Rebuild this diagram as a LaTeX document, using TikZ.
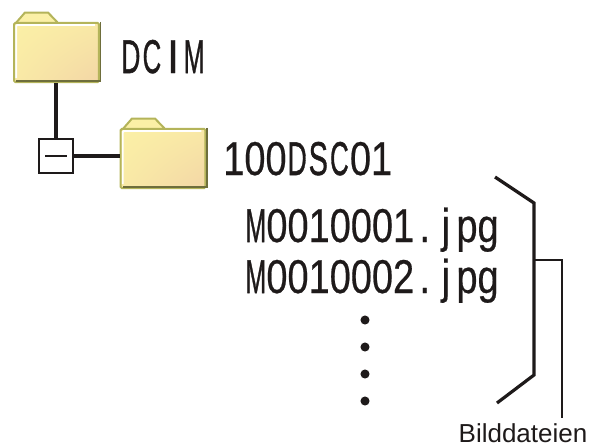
\documentclass[tikz,border=0pt]{standalone}
\usepackage{fontspec}
\usetikzlibrary{shadings}
\setmainfont{Liberation Sans}
\newfontfamily\gothicf[FakeBold=0.5]{Liberation Sans}
\newfontfamily\gothicg[FakeBold=1.1]{Liberation Sans}
\definecolor{folderedge}{HTML}{B4B45A}
\definecolor{foldershade}{HTML}{6E6E3C}
\definecolor{folderlight}{HTML}{FBF0A6}
\definecolor{folderpeach}{HTML}{F3D6A6}
\definecolor{linedark}{HTML}{1E1A1A}
\newcommand{\gothic}[1]{\scalebox{0.8}[1]{\fontsize{35.6pt}{36pt}\gothicf #1}}
\newcommand{\cel}[2]{\makebox[0.556em]{\scalebox{#1}[1]{#2}}}
\newcommand{\celb}[2]{\makebox[0.556em]{\scalebox{#1}[1]{\gothicg #2}}}
\tikzset{
  x=0.75pt,y=-0.75pt,
  folderbody/.style={rectangle,inner sep=0pt,minimum width=63.5pt,minimum height=44.5pt,
    draw=folderedge,line width=1.5pt,rounded corners=1pt,fill=folderlight,
    path picture={\shade[upper left=folderlight,upper right=folderlight!70!folderpeach,lower left=folderlight!75!folderpeach,lower right=folderpeach]
      (path picture bounding box.south west) rectangle (path picture bounding box.north east);
      \draw[white,line width=1.5pt] (path picture bounding box.south west)++(1.5pt,3pt) |- ([xshift=-3pt,yshift=-1.5pt]path picture bounding box.north east);}},
  foldertab/.style={draw=folderedge,line width=1.5pt,fill=folderlight,line join=round},
  tree/.style={draw=linedark,line width=3.7pt},
  expander/.style={rectangle,draw=linedark,line width=1.4pt,fill=white,minimum width=26pt,minimum height=26pt,inner sep=0pt},
  gothiclabel/.style={anchor=base west,inner sep=0pt,text=linedark},
  brace/.style={draw=linedark,line width=2.4pt,line join=miter},
  leader/.style={draw=linedark,line width=1.5pt},
  dotmark/.style={circle,fill=linedark,minimum size=6.8pt,inner sep=0pt},
}
\begin{document}
\begin{tikzpicture}
\useasboundingbox (0,0) rectangle (599,446);
% folder tabs
\draw[foldertab] (15,24) -- (25,12.5) -- (48,12.5) -- (59,24) -- cycle;
\draw[foldertab] (122,130) -- (132,118.5) -- (155,118.5) -- (166,130) -- cycle;
% folders
\node[folderbody] (dcim) at (56.5,52.5) {};
\node[folderbody] (sub) at (163,158.5) {};
\draw[foldershade,line width=1.2pt] (dcim.north east) ++(0.5,0) -- ++(0,59) -- ++(-84,0);
\draw[foldershade,line width=1.2pt] (sub.north east) ++(0.5,0) -- ++(0,59) -- ++(-84,0);
% expander
\node[expander] (box) at (56,156) {};
\coordinate (minusL) at (45,156);
\coordinate (minusR) at (67,156);
\draw[draw=linedark,line width=1.3pt] (minusL) -- (minusR);
\draw[tree] (dcim.south -| box.north) -- (box.north);
\draw[tree] (box.east) -- (box.east -| sub.west);
% labels
\node[gothiclabel] (l1) at (120,73) {\gothic{\celb{0.7}{D}\celb{0.68}{C}\cel{1.15}{I}\celb{0.66}{M}}};
\node[gothiclabel] (l2) at (223,175) {\gothic{100\celb{0.7}{D}\celb{0.76}{S}\celb{0.68}{C}01}};
\node[gothiclabel] (f1) at (245,242) {\gothic{\celb{0.66}{M}0010001\cel{1}{.}\cel{1}{j}pg}};
\node[gothiclabel] (f2) at (245,293) {\gothic{\celb{0.66}{M}0010002\cel{1}{.}\cel{1}{j}pg}};
% dots
\node[dotmark] (d1) at (365,320) {};
\node[dotmark] (d2) at (365,347) {};
\node[dotmark] (d3) at (365,374) {};
\node[dotmark] (d4) at (365,401) {};
% bracket
\coordinate (bA) at (495,177);
\coordinate (bB) at (534,203);
\coordinate (bC) at (534,375);
\coordinate (bD) at (497,403);
\draw[brace] (bA) -- (bB) -- (bC) -- (bD);
% leader
\node[inner sep=0pt,font=\fontsize{19.5pt}{19.5pt}\selectfont,text=linedark] (cap) at (523,433) {Bilddateien};
\coordinate (lS) at (535,260);
\coordinate (lE) at (562,418);
\draw[leader] (lS) -| (lE);
\end{tikzpicture}
\end{document}
